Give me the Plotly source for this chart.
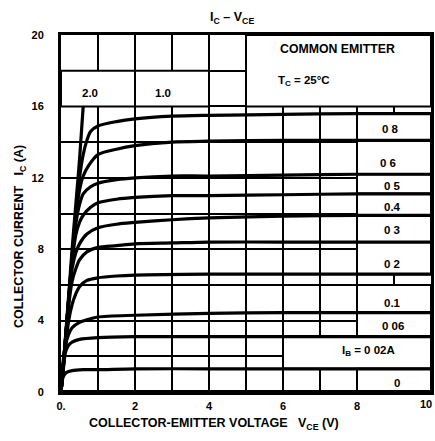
import plotly.graph_objects as go

# ---- Data (IB curves: VCE [V] -> IC [A]) ----
vce_ib_2_0 = [0.0, 0.05, 0.1, 0.2, 0.3, 0.4, 0.5, 0.6]
ic_ib_2_0 = [0.0, 1.2, 2.5, 5.2, 8.0, 10.5, 13.0, 16.0]

vce_ib_1_0 = [0.0, 0.1, 0.2, 0.3, 0.4, 0.5, 0.6, 0.7, 0.8, 1.0, 1.5, 2.0, 3.0, 4.0, 6.0, 8.0, 10.0]
ic_ib_1_0 = [0.0, 2.4, 5.0, 7.6, 10.0, 12.0, 13.3, 14.1, 14.6, 14.9, 15.15, 15.3, 15.45, 15.5, 15.55, 15.6, 15.6]

vce_ib_0_8 = [0.0, 0.1, 0.2, 0.3, 0.4, 0.5, 0.6, 0.75, 1.0, 1.5, 2.0, 3.0, 4.0, 6.0, 8.0, 10.0]
ic_ib_0_8 = [0.0, 2.4, 5.0, 7.5, 9.8, 11.3, 12.1, 12.7, 13.3, 13.6, 13.8, 14.0, 14.05, 14.1, 14.1, 14.1]

vce_ib_0_6 = [0.0, 0.1, 0.2, 0.3, 0.4, 0.5, 0.6, 0.8, 1.0, 1.5, 2.0, 3.0, 4.0, 6.0, 8.0, 10.0]
ic_ib_0_6 = [0.0, 2.4, 5.0, 7.4, 9.4, 10.5, 11.1, 11.5, 11.7, 11.9, 12.0, 12.1, 12.1, 12.15, 12.2, 12.2]

vce_ib_0_5 = [0.0, 0.1, 0.2, 0.3, 0.4, 0.5, 0.6, 0.8, 1.0, 1.5, 2.0, 3.0, 4.0, 6.0, 8.0, 10.0]
ic_ib_0_5 = [0.0, 2.4, 5.0, 7.3, 8.8, 9.5, 9.9, 10.35, 10.6, 10.8, 10.9, 11.0, 11.0, 11.05, 11.1, 11.1]

vce_ib_0_4 = [0.0, 0.1, 0.2, 0.3, 0.4, 0.5, 0.7, 1.0, 1.5, 2.0, 3.0, 4.0, 6.0, 8.0, 10.0]
ic_ib_0_4 = [0.0, 2.3, 4.9, 6.9, 7.8, 8.3, 8.85, 9.2, 9.4, 9.5, 9.65, 9.75, 9.85, 9.9, 9.9]

vce_ib_0_3 = [0.0, 0.1, 0.2, 0.3, 0.4, 0.5, 0.7, 1.0, 1.5, 2.0, 3.0, 4.0, 6.0, 8.0, 10.0]
ic_ib_0_3 = [0.0, 2.2, 4.7, 6.2, 6.9, 7.4, 7.85, 8.1, 8.2, 8.3, 8.35, 8.4, 8.4, 8.4, 8.4]

vce_ib_0_2 = [0.0, 0.1, 0.2, 0.3, 0.4, 0.5, 0.7, 1.0, 1.5, 2.0, 4.0, 6.0, 8.0, 10.0]
ic_ib_0_2 = [0.0, 2.0, 3.9, 4.9, 5.5, 5.9, 6.25, 6.4, 6.5, 6.55, 6.6, 6.6, 6.6, 6.6]

vce_ib_0_1 = [0.0, 0.05, 0.1, 0.2, 0.3, 0.5, 0.7, 1.0, 2.0, 4.0, 6.0, 8.0, 10.0]
ic_ib_0_1 = [0.0, 1.5, 2.4, 3.2, 3.6, 3.9, 4.05, 4.2, 4.3, 4.4, 4.45, 4.45, 4.45]

vce_ib_0_06 = [0.0, 0.05, 0.1, 0.2, 0.3, 0.5, 1.0, 2.0, 4.0, 6.0, 8.0, 10.0]
ic_ib_0_06 = [0.0, 1.4, 2.1, 2.6, 2.8, 2.95, 3.05, 3.1, 3.1, 3.1, 3.1, 3.1]

vce_ib_0_02 = [0.0, 0.03, 0.07, 0.15, 0.3, 0.6, 1.0, 2.0, 4.0, 6.0, 8.0, 10.0]
ic_ib_0_02 = [0.0, 0.6, 0.9, 1.1, 1.2, 1.25, 1.25, 1.3, 1.3, 1.3, 1.3, 1.3]

vce_ib_0 = [0.0, 10.0]
ic_ib_0 = [0.02, 0.02]

# tick labels
x_tickvals = [0, 2, 4, 6, 8]
x_ticktext = ["0.", "2", "4", "6", "8"]
x_last_tick = "10"
y_tickvals = [0, 4, 8, 12, 16, 20]
y_ticktext = ["0", "4", "8", "12", "16", "20"]

# curve labels (text, VCE, IC)
label_text = ["0 8", "0 6", "0 5", "0.4", "0 3", "0 2", "0.1", "0 06", "I<sub>B</sub> = 0 02A", "0", "2.0", "1.0"]
label_x = [8.9, 8.85, 8.95, 8.95, 8.95, 8.95, 8.97, 8.97, 8.3, 9.08, 0.78, 2.76]
label_y = [14.75, 12.85, 11.55, 10.35, 9.1, 7.15, 5.0, 3.7, 2.3, 0.5, 16.75, 16.75]

# label boxes (x0, x1, y0, y1) in data units
box_x0 = [0, 2, 5, 8, 8, 8, 8, 8, 8, 8, 8, 6, 8]
box_x1 = [2, 4, 10, 10, 10, 10, 10, 10, 10, 10, 10, 10, 10]
box_y0 = [16, 16, 16, 14.1, 12.2, 11.1, 9.9, 8.4, 6.6, 4.45, 3.1, 1.3, 0]
box_y1 = [18, 18, 20, 15.6, 14.1, 12.2, 11.1, 9.9, 8.4, 6.0, 4.45, 3.1, 1.3]

curves = [
    (vce_ib_2_0, ic_ib_2_0), (vce_ib_1_0, ic_ib_1_0), (vce_ib_0_8, ic_ib_0_8),
    (vce_ib_0_6, ic_ib_0_6), (vce_ib_0_5, ic_ib_0_5), (vce_ib_0_4, ic_ib_0_4),
    (vce_ib_0_3, ic_ib_0_3), (vce_ib_0_2, ic_ib_0_2), (vce_ib_0_1, ic_ib_0_1),
    (vce_ib_0_06, ic_ib_0_06), (vce_ib_0_02, ic_ib_0_02), (vce_ib_0, ic_ib_0),
]

FONT = "Liberation Sans"
BOLD = dict(family=FONT, size=11, color="black", weight="bold")
LABEL = dict(family=FONT, size=11.5, color="black", weight="bold")
TITLE = dict(family=FONT, size=12.5, color="black", weight="bold")

fig = go.Figure()
for vx, iy in curves:
    fig.add_trace(go.Scatter(
        x=vx, y=iy, mode="lines",
        line=dict(color="black", width=3.2, shape="spline", smoothing=0.8),
        showlegend=False, hoverinfo="skip",
    ))

for x0, x1, y0, y1 in zip(box_x0, box_x1, box_y0, box_y1):
    fig.add_shape(type="rect", xref="x", yref="y", x0=x0, x1=x1, y0=y0, y1=y1,
                  fillcolor="white", line=dict(color="black", width=2), layer="between")

for t, x, y in zip(label_text, label_x, label_y):
    fig.add_annotation(x=x, y=y, xref="x", yref="y", text=t, showarrow=False, font=LABEL,
                       xanchor="center", yanchor="middle")

fig.add_annotation(x=7.46, y=19.2, xref="x", yref="y", text="COMMON EMITTER",
                   showarrow=False, font=dict(family=FONT, size=12.3, color="black", weight="bold"),
                   xanchor="center", yanchor="middle")
fig.add_annotation(x=5.82, y=17.45, xref="x", yref="y", xanchor="left", yanchor="middle",
                   text="T<sub>C</sub> = 25°C", showarrow=False, font=LABEL)

fig.update_layout(
    width=435, height=441,
    margin=dict(l=61, r=4, t=35, b=49),
    paper_bgcolor="white", plot_bgcolor="white",
    showlegend=False,
    font=dict(family=FONT, size=11, color="black"),
    xaxis=dict(range=[0, 10], tickvals=x_tickvals, ticktext=x_ticktext,
               automargin=False,
               showgrid=True, gridcolor="black", gridwidth=2,
               minor=dict(dtick=1, tick0=0, showgrid=True, gridcolor="black", gridwidth=2),
               showline=True, linecolor="black", linewidth=3, mirror=True,
               zeroline=False, ticks="", ticklabelstandoff=2, tickfont=BOLD),
    yaxis=dict(range=[0, 20], tickvals=y_tickvals, ticktext=y_ticktext,
               automargin=False,
               showgrid=True, gridcolor="black", gridwidth=2,
               minor=dict(dtick=2, tick0=0, showgrid=True, gridcolor="black", gridwidth=2),
               showline=True, linecolor="black", linewidth=3, mirror=True,
               zeroline=False, ticks="", ticklabelstandoff=12, tickfont=BOLD),
)

# "10" at the right end, right-aligned so it stays inside the page
fig.add_annotation(x=10, y=0, xref="x", yref="paper", yanchor="top", xanchor="right",
                   xshift=3, yshift=-4, text=x_last_tick, showarrow=False, font=BOLD)

fig.add_annotation(x=(232 - 61) / 370, y=1 + (35 - 18) / 357, xref="paper", yref="paper",
                   xanchor="center", yanchor="middle",
                   text="I<sub>C</sub> – V<sub>CE</sub>", showarrow=False, font=TITLE)
fig.add_annotation(x=(20 - 61) / 370, y=(392 - 237) / 357, xref="paper", yref="paper",
                   xanchor="center", yanchor="middle",
                   text="COLLECTOR CURRENT   I<sub>C</sub> (A)", textangle=-90, showarrow=False,
                   font=TITLE)
fig.add_annotation(x=(214 - 61) / 370, y=-(424 - 392) / 357, xref="paper", yref="paper",
                   xanchor="center", yanchor="middle",
                   text="COLLECTOR-EMITTER VOLTAGE   V<sub>CE</sub> (V)", showarrow=False,
                   font=TITLE)

fig.write_html("out.html", config={"displayModeBar": False},
               post_script="document.body.style.margin='0';document.body.style.padding='0';")
